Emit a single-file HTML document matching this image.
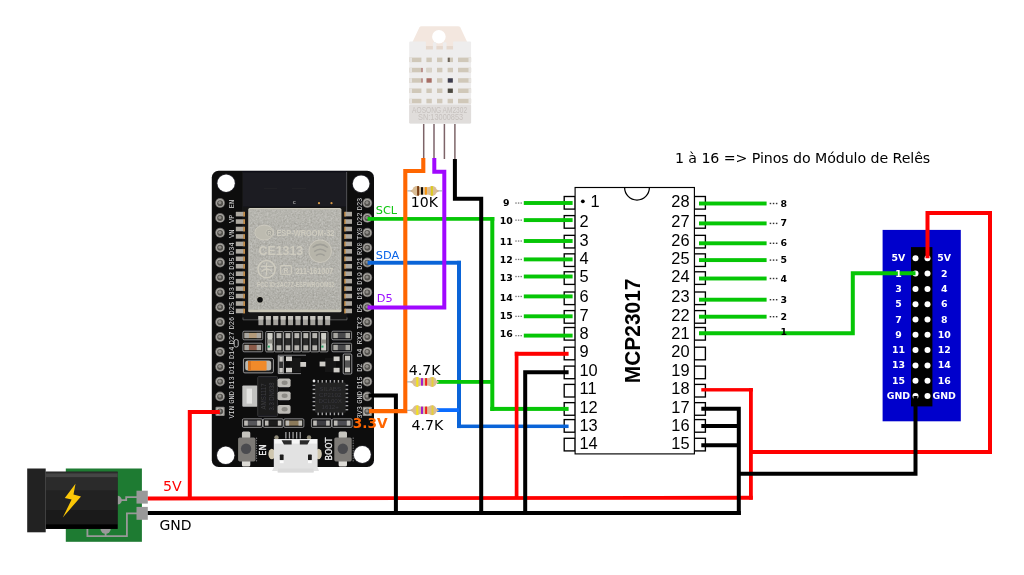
<!DOCTYPE html>
<html lang="pt">
<head>
<meta charset="utf-8">
<title>ESP32 + MCP23017 + DHT22</title>
<style>
html,body{margin:0;padding:0;background:#fff;}
body{width:1024px;height:575px;overflow:hidden;}
svg{display:block;will-change:transform;}
</style>
</head>
<body>
<svg width="1024" height="575" viewBox="0 0 1024 575">
<rect width="1024" height="575" fill="#fff"/>
<defs><filter id="b1" x="-5%" y="-5%" width="110%" height="110%"><feGaussianBlur stdDeviation="0.45"/></filter><filter id="nz" x="0" y="0" width="100%" height="100%"><feTurbulence type="fractalNoise" baseFrequency="0.55" numOctaves="2" seed="7" result="n"/><feColorMatrix in="n" type="matrix" values="0 0 0 0 0.64  0 0 0 0 0.635  0 0 0 0 0.605  0.9 0.9 0.9 0 -0.85"/><feComposite operator="in" in2="SourceGraphic"/></filter><filter id="b2" x="-5%" y="-5%" width="110%" height="110%"><feGaussianBlur stdDeviation="0.4"/></filter></defs>
<g id="jack">
<rect x="65.8" y="468.5" width="76.1" height="73.3" fill="#1e7b32"/>
<path d="M119,500.2 H126.2 V497.1 H137" fill="none" stroke="#999" stroke-width="1.8"/>
<path d="M87.4,528 V536.1 H126.9 V513.3 H137" fill="none" stroke="#999" stroke-width="1.8"/>
<circle cx="105.6" cy="528.6" r="5.2" fill="#999"/>
<line x1="105.6" y1="532" x2="105.6" y2="536.3" stroke="#999" stroke-width="1.8"/>
<circle cx="117.4" cy="500.2" r="4.4" fill="#999"/>
<rect x="136.5" y="490.7" width="11.3" height="12.9" fill="#999"/>
<rect x="136.5" y="506.9" width="11.3" height="12.9" fill="#999"/>
<rect x="45.7" y="471.7" width="71.9" height="57.2" fill="#222"/>
<rect x="45.7" y="471.7" width="71.9" height="1.6" fill="#2b2b2b"/>
<rect x="45.7" y="473.3" width="71.9" height="4.2" fill="#454545"/>
<rect x="45.7" y="477.5" width="71.9" height="13" fill="#2b2b2b"/>
<rect x="45.7" y="490.5" width="71.9" height="19.5" fill="#222"/>
<rect x="45.7" y="510" width="71.9" height="14.3" fill="#1a1a1a"/>
<rect x="45.7" y="524.3" width="71.9" height="4.6" fill="#000"/>
<rect x="27.2" y="468.5" width="18.5" height="63.8" fill="#222"/>
<path d="M75.5,483.7 L64.8,498 L71.6,499.6 L62.8,517.4 L81,496.6 L73.5,494.6 Z" fill="#fbc707"/>
</g>
<g id="esp" filter="url(#b1)">
<rect x="211.8" y="170.8" width="162.2" height="296.3" rx="6.8" fill="#0a0a0c"/>
<rect x="241.9" y="171.3" width="105.8" height="148" fill="#141417"/>
<rect x="243" y="172.5" width="103" height="34" fill="#1b1b20"/>
<path d="M346.6,172 V212" stroke="#77777c" stroke-width="0.6" fill="none"/>
<path d="M264,177 V188.5 H277 V177 M292,177 V188.5 H306 V177 M320,177 V190" stroke="#222228" stroke-width="1" fill="none"/>
<path d="M243,317.5 V319.8 H262 M328,319.8 H347 V317.5" stroke="#8a8a8a" stroke-width="0.6" fill="none"/>
<text x="294.3" y="204.2" font-family="'Liberation Sans','DejaVu Sans',sans-serif" font-size="4.2" font-weight="bold" fill="#bbb" text-anchor="middle" >C</text>
<circle cx="319" cy="203.2" r="1.1" fill="#d89a4a"/>
<circle cx="331.5" cy="203.2" r="1.1" fill="#d89a4a"/>
<circle cx="226.1" cy="183.2" r="9.6" fill="#26262a"/>
<circle cx="226.1" cy="183.2" r="8.7" fill="#fff"/>
<circle cx="361.1" cy="183.8" r="9.3" fill="#26262a"/>
<circle cx="361.1" cy="183.8" r="8.4" fill="#fff"/>
<circle cx="225.7" cy="455.3" r="9.6" fill="#26262a"/>
<circle cx="225.7" cy="455.3" r="8.7" fill="#fff"/>
<circle cx="362.3" cy="454.5" r="9.4" fill="#26262a"/>
<circle cx="362.3" cy="454.5" r="8.5" fill="#fff"/>
<rect x="235.8" y="211.80" width="8" height="4.6" fill="#aca8a0"/>
<rect x="243.4" y="211.80" width="1.6" height="4.8" fill="#c98f45"/>
<rect x="345" y="211.80" width="7" height="4.6" fill="#aca8a0"/>
<rect x="344.2" y="211.80" width="1.4" height="4.8" fill="#c98f45"/>
<rect x="235.8" y="219.25" width="8" height="4.6" fill="#aca8a0"/>
<rect x="243.4" y="219.25" width="1.6" height="4.8" fill="#c98f45"/>
<rect x="345" y="219.25" width="7" height="4.6" fill="#aca8a0"/>
<rect x="344.2" y="219.25" width="1.4" height="4.8" fill="#c98f45"/>
<rect x="235.8" y="226.70" width="8" height="4.6" fill="#aca8a0"/>
<rect x="243.4" y="226.70" width="1.6" height="4.8" fill="#c98f45"/>
<rect x="345" y="226.70" width="7" height="4.6" fill="#aca8a0"/>
<rect x="344.2" y="226.70" width="1.4" height="4.8" fill="#c98f45"/>
<rect x="235.8" y="234.15" width="8" height="4.6" fill="#aca8a0"/>
<rect x="243.4" y="234.15" width="1.6" height="4.8" fill="#c98f45"/>
<rect x="345" y="234.15" width="7" height="4.6" fill="#aca8a0"/>
<rect x="344.2" y="234.15" width="1.4" height="4.8" fill="#c98f45"/>
<rect x="235.8" y="241.60" width="8" height="4.6" fill="#aca8a0"/>
<rect x="243.4" y="241.60" width="1.6" height="4.8" fill="#c98f45"/>
<rect x="345" y="241.60" width="7" height="4.6" fill="#aca8a0"/>
<rect x="344.2" y="241.60" width="1.4" height="4.8" fill="#c98f45"/>
<rect x="235.8" y="249.05" width="8" height="4.6" fill="#aca8a0"/>
<rect x="243.4" y="249.05" width="1.6" height="4.8" fill="#c98f45"/>
<rect x="345" y="249.05" width="7" height="4.6" fill="#aca8a0"/>
<rect x="344.2" y="249.05" width="1.4" height="4.8" fill="#c98f45"/>
<rect x="235.8" y="256.50" width="8" height="4.6" fill="#aca8a0"/>
<rect x="243.4" y="256.50" width="1.6" height="4.8" fill="#c98f45"/>
<rect x="345" y="256.50" width="7" height="4.6" fill="#aca8a0"/>
<rect x="344.2" y="256.50" width="1.4" height="4.8" fill="#c98f45"/>
<rect x="235.8" y="263.95" width="8" height="4.6" fill="#aca8a0"/>
<rect x="243.4" y="263.95" width="1.6" height="4.8" fill="#c98f45"/>
<rect x="345" y="263.95" width="7" height="4.6" fill="#aca8a0"/>
<rect x="344.2" y="263.95" width="1.4" height="4.8" fill="#c98f45"/>
<rect x="235.8" y="271.40" width="8" height="4.6" fill="#aca8a0"/>
<rect x="243.4" y="271.40" width="1.6" height="4.8" fill="#c98f45"/>
<rect x="345" y="271.40" width="7" height="4.6" fill="#aca8a0"/>
<rect x="344.2" y="271.40" width="1.4" height="4.8" fill="#c98f45"/>
<rect x="235.8" y="278.85" width="8" height="4.6" fill="#aca8a0"/>
<rect x="243.4" y="278.85" width="1.6" height="4.8" fill="#c98f45"/>
<rect x="345" y="278.85" width="7" height="4.6" fill="#aca8a0"/>
<rect x="344.2" y="278.85" width="1.4" height="4.8" fill="#c98f45"/>
<rect x="235.8" y="286.30" width="8" height="4.6" fill="#aca8a0"/>
<rect x="243.4" y="286.30" width="1.6" height="4.8" fill="#c98f45"/>
<rect x="345" y="286.30" width="7" height="4.6" fill="#aca8a0"/>
<rect x="344.2" y="286.30" width="1.4" height="4.8" fill="#c98f45"/>
<rect x="235.8" y="293.75" width="8" height="4.6" fill="#aca8a0"/>
<rect x="243.4" y="293.75" width="1.6" height="4.8" fill="#c98f45"/>
<rect x="345" y="293.75" width="7" height="4.6" fill="#aca8a0"/>
<rect x="344.2" y="293.75" width="1.4" height="4.8" fill="#c98f45"/>
<rect x="235.8" y="301.20" width="8" height="4.6" fill="#aca8a0"/>
<rect x="243.4" y="301.20" width="1.6" height="4.8" fill="#c98f45"/>
<rect x="345" y="301.20" width="7" height="4.6" fill="#aca8a0"/>
<rect x="344.2" y="301.20" width="1.4" height="4.8" fill="#c98f45"/>
<rect x="235.8" y="308.65" width="8" height="4.6" fill="#aca8a0"/>
<rect x="243.4" y="308.65" width="1.6" height="4.8" fill="#c98f45"/>
<rect x="345" y="308.65" width="7" height="4.6" fill="#aca8a0"/>
<rect x="344.2" y="308.65" width="1.4" height="4.8" fill="#c98f45"/>
<rect x="258.40" y="316" width="5" height="9.2" fill="#a3a19c"/>
<rect x="258.40" y="316" width="5" height="3.6" fill="#c6c4be"/>
<rect x="265.82" y="316" width="5" height="9.2" fill="#a3a19c"/>
<rect x="265.82" y="316" width="5" height="3.6" fill="#c6c4be"/>
<rect x="273.23" y="316" width="5" height="9.2" fill="#a3a19c"/>
<rect x="273.23" y="316" width="5" height="3.6" fill="#c6c4be"/>
<rect x="280.65" y="316" width="5" height="9.2" fill="#a3a19c"/>
<rect x="280.65" y="316" width="5" height="3.6" fill="#c6c4be"/>
<rect x="288.07" y="316" width="5" height="9.2" fill="#a3a19c"/>
<rect x="288.07" y="316" width="5" height="3.6" fill="#c6c4be"/>
<rect x="295.49" y="316" width="5" height="9.2" fill="#a3a19c"/>
<rect x="295.49" y="316" width="5" height="3.6" fill="#c6c4be"/>
<rect x="302.90" y="316" width="5" height="9.2" fill="#a3a19c"/>
<rect x="302.90" y="316" width="5" height="3.6" fill="#c6c4be"/>
<rect x="310.32" y="316" width="5" height="9.2" fill="#a3a19c"/>
<rect x="310.32" y="316" width="5" height="3.6" fill="#c6c4be"/>
<rect x="317.74" y="316" width="5" height="9.2" fill="#a3a19c"/>
<rect x="317.74" y="316" width="5" height="3.6" fill="#c6c4be"/>
<rect x="325.16" y="316" width="5" height="9.2" fill="#a3a19c"/>
<rect x="325.16" y="316" width="5" height="3.6" fill="#c6c4be"/>
<rect x="248.3" y="207.9" width="93.1" height="104.4" rx="1.5" fill="#cfccbf"/>
<rect x="249.4" y="209.6" width="91" height="101.4" rx="1" fill="#a3a29b"/>
<rect x="249.4" y="209.6" width="91" height="12" fill="#aaa9a2" opacity="0.6"/>
<rect x="249.4" y="292" width="91" height="19" fill="#9c9b94" opacity="0.6"/>
<rect x="249.4" y="209.6" width="91" height="101.4" rx="1" fill="#a3a29b" filter="url(#nz)" opacity="0.7"/>
<rect x="248.6" y="309.6" width="92.6" height="2.4" fill="#c9c6b6"/>
<ellipse cx="264.2" cy="232.6" rx="9.4" ry="7.4" fill="#bdbbb0"/>
<ellipse cx="264.2" cy="232.6" rx="9.4" ry="7.4" fill="none" stroke="#cecbbf" stroke-width="0.9"/>
<circle cx="269.4" cy="232.8" r="3.6" fill="#a9a8a0" stroke="#cecbbf" stroke-width="0.8"/>
<text x="269.4" y="234.7" font-family="'Liberation Sans','DejaVu Sans',sans-serif" font-size="5.2" font-weight="bold" fill="#cecbbf" text-anchor="middle" >R</text>
<text x="276.4" y="236" font-family="'Liberation Sans',sans-serif" font-weight="bold" font-size="8.6" fill="#cecbbf" textLength="58" lengthAdjust="spacingAndGlyphs">ESP-WROOM-32</text>
<text x="258.6" y="254.6" font-family="'Liberation Sans',sans-serif" font-weight="bold" font-size="12.2" fill="#cecbbf" textLength="44.5" lengthAdjust="spacingAndGlyphs">CE1313</text>
<circle cx="320.2" cy="251.2" r="11.3" fill="#b7b5aa"/>
<circle cx="320.2" cy="251.2" r="11.3" fill="none" stroke="#cecbbf" stroke-width="0.9"/>
<path d="M312.6,247.5 Q320.2,241.2 327.8,247.5 M314.2,251.6 Q320.2,246.8 326.2,251.6 M316,255.6 Q320.2,252.4 324.6,255.6" fill="none" stroke="#9f9e97" stroke-width="1.5"/>
<circle cx="266.6" cy="269.2" r="8.6" fill="none" stroke="#cecbbf" stroke-width="1.5"/>
<path d="M260.6,266.4 H272.6 M266.6,262.6 V275.6 M261.4,271.4 Q266.6,266.6 272,271.4" fill="none" stroke="#cecbbf" stroke-width="1.3"/>
<rect x="280.6" y="265.6" width="10.8" height="8.6" rx="1.4" fill="none" stroke="#cecbbf" stroke-width="1.1"/>
<text x="286" y="272.5" font-family="'Liberation Sans','DejaVu Sans',sans-serif" font-size="6.8" font-weight="bold" fill="#cecbbf" text-anchor="middle" >R</text>
<text x="295.4" y="274" font-family="'Liberation Sans',sans-serif" font-weight="bold" font-size="8.2" fill="#cecbbf" textLength="37.8" lengthAdjust="spacingAndGlyphs">211-161007</text>
<text x="257" y="287" font-family="'Liberation Sans',sans-serif" font-weight="bold" font-size="7.2" fill="#cecbbf" textLength="77.4" lengthAdjust="spacingAndGlyphs">FCC ID:2AC7Z-ESPWROOM32</text>
<circle cx="260" cy="299.8" r="3.7" fill="#b9b7ad"/>
<circle cx="260" cy="299.8" r="2.8" fill="#0a0a0a"/>
<rect x="242.9" y="331.2" width="19.8" height="8.6" rx="1.2" fill="#151515" stroke="#bcbcbc" stroke-width="0.7"/>
<rect x="244.5" y="332.9" width="16.6" height="5.199999999999999" fill="#b39a7a"/>
<rect x="244.5" y="332.9" width="4.4" height="5.199999999999999" fill="#a9a7a2"/>
<rect x="256.7" y="332.9" width="4.4" height="5.199999999999999" fill="#a9a7a2"/>
<rect x="242.9" y="343.2" width="19.8" height="8.6" rx="1.2" fill="#151515" stroke="#bcbcbc" stroke-width="0.7"/>
<rect x="244.5" y="344.9" width="16.6" height="5.199999999999999" fill="#8a5a48"/>
<rect x="244.5" y="344.9" width="4.4" height="5.199999999999999" fill="#a9a7a2"/>
<rect x="256.7" y="344.9" width="4.4" height="5.199999999999999" fill="#a9a7a2"/>
<rect x="265.7" y="331.5" width="8.6" height="20.4" rx="1" fill="#151515" stroke="#bcbcbc" stroke-width="0.7"/>
<rect x="267.59999999999997" y="333.1" width="4.8" height="17.2" fill="#3a3a38"/>
<rect x="267.59999999999997" y="333.1" width="4.8" height="5" fill="#b8b6b1"/>
<rect x="267.59999999999997" y="345.29999999999995" width="4.8" height="5" fill="#b8b6b1"/>
<rect x="267.59999999999997" y="333.1" width="4.8" height="17.2" fill="#cfcfc8"/>
<rect x="267.59999999999997" y="345.6" width="2.2" height="2" fill="#2fa36a"/>
<rect x="267.59999999999997" y="339.5" width="4.8" height="4" fill="#8f8f88"/>
<rect x="274.65" y="331.5" width="8.6" height="20.4" rx="1" fill="#151515" stroke="#bcbcbc" stroke-width="0.7"/>
<rect x="276.54999999999995" y="333.1" width="4.8" height="17.2" fill="#2c2c2c"/>
<rect x="276.54999999999995" y="333.1" width="4.8" height="5" fill="#b8b6b1"/>
<rect x="276.54999999999995" y="345.29999999999995" width="4.8" height="5" fill="#b8b6b1"/>
<rect x="283.59999999999997" y="331.5" width="8.6" height="20.4" rx="1" fill="#151515" stroke="#bcbcbc" stroke-width="0.7"/>
<rect x="285.49999999999994" y="333.1" width="4.8" height="17.2" fill="#2c2c2c"/>
<rect x="285.49999999999994" y="333.1" width="4.8" height="5" fill="#b8b6b1"/>
<rect x="285.49999999999994" y="345.29999999999995" width="4.8" height="5" fill="#b8b6b1"/>
<rect x="292.55" y="331.5" width="8.6" height="20.4" rx="1" fill="#151515" stroke="#bcbcbc" stroke-width="0.7"/>
<rect x="294.45" y="333.1" width="4.8" height="17.2" fill="#2c2c2c"/>
<rect x="294.45" y="333.1" width="4.8" height="5" fill="#b8b6b1"/>
<rect x="294.45" y="345.29999999999995" width="4.8" height="5" fill="#b8b6b1"/>
<rect x="301.5" y="331.5" width="8.6" height="20.4" rx="1" fill="#151515" stroke="#bcbcbc" stroke-width="0.7"/>
<rect x="303.4" y="333.1" width="4.8" height="17.2" fill="#2c2c2c"/>
<rect x="303.4" y="333.1" width="4.8" height="5" fill="#b8b6b1"/>
<rect x="303.4" y="345.29999999999995" width="4.8" height="5" fill="#b8b6b1"/>
<rect x="310.45" y="331.5" width="8.6" height="20.4" rx="1" fill="#151515" stroke="#bcbcbc" stroke-width="0.7"/>
<rect x="312.34999999999997" y="333.1" width="4.8" height="17.2" fill="#2c2c2c"/>
<rect x="312.34999999999997" y="333.1" width="4.8" height="5" fill="#b8b6b1"/>
<rect x="312.34999999999997" y="345.29999999999995" width="4.8" height="5" fill="#b8b6b1"/>
<rect x="319.4" y="331.5" width="8.6" height="20.4" rx="1" fill="#151515" stroke="#bcbcbc" stroke-width="0.7"/>
<rect x="321.29999999999995" y="333.1" width="4.8" height="17.2" fill="#3a3a38"/>
<rect x="321.29999999999995" y="333.1" width="4.8" height="5" fill="#b8b6b1"/>
<rect x="321.29999999999995" y="345.29999999999995" width="4.8" height="5" fill="#b8b6b1"/>
<rect x="321.29999999999995" y="333.1" width="4.8" height="17.2" fill="#cfcfc8"/>
<rect x="321.29999999999995" y="345.6" width="2.2" height="2" fill="#2fa36a"/>
<rect x="321.29999999999995" y="339.5" width="4.8" height="4" fill="#8f8f88"/>
<rect x="331.8" y="331.2" width="19.8" height="8.6" rx="1.2" fill="#151515" stroke="#bcbcbc" stroke-width="0.7"/>
<rect x="333.40000000000003" y="332.9" width="16.6" height="5.199999999999999" fill="#4a4a4c"/>
<rect x="333.40000000000003" y="332.9" width="4.4" height="5.199999999999999" fill="#a9a7a2"/>
<rect x="345.6" y="332.9" width="4.4" height="5.199999999999999" fill="#a9a7a2"/>
<rect x="331.8" y="343.2" width="19.8" height="8.6" rx="1.2" fill="#151515" stroke="#bcbcbc" stroke-width="0.7"/>
<rect x="333.40000000000003" y="344.9" width="16.6" height="5.199999999999999" fill="#4a4a4c"/>
<rect x="333.40000000000003" y="344.9" width="4.4" height="5.199999999999999" fill="#a9a7a2"/>
<rect x="345.6" y="344.9" width="4.4" height="5.199999999999999" fill="#a9a7a2"/>
<rect x="234.2" y="339.6" width="4" height="7.4" rx="1.6" fill="none" stroke="#e8e8e8" stroke-width="0.8"/>
<rect x="243.4" y="358.3" width="30" height="14.6" rx="1.5" fill="#1a1a1a" stroke="#bdbdbd" stroke-width="0.8"/>
<rect x="245.2" y="360.6" width="26" height="10" rx="2.5" fill="#bcbab4"/>
<rect x="248" y="361" width="18.6" height="9.4" rx="1" fill="#f08a2a"/>
<rect x="248" y="361" width="3" height="9.4" fill="#d87420"/>
<path d="M278.2,355.2 H306 M278.2,355.2 V373.6 M278.2,373.6 H301" fill="none" stroke="#cfcfcf" stroke-width="0.6"/>
<rect x="278.8" y="356.3" width="4.6" height="17" fill="#303030" stroke="#d0d0d0" stroke-width="0.6"/>
<rect x="279.4" y="357" width="3.4" height="4.6" fill="#c9c7c2"/>
<rect x="279.4" y="368" width="3.4" height="4.6" fill="#c9c7c2"/>
<rect x="290" y="357.5" width="11" height="14.5" fill="#161616"/>
<rect x="286" y="356.5" width="6" height="4.6" fill="#cfcdc8"/>
<rect x="286" y="367.8" width="6" height="4.6" fill="#cfcdc8"/>
<rect x="300.3" y="362" width="5.8" height="4.8" fill="#cfcdc8"/>
<rect x="325" y="357.5" width="11" height="14.5" fill="#161616"/>
<rect x="319.6" y="361.6" width="5.8" height="4.8" fill="#cfcdc8"/>
<rect x="333.6" y="356.5" width="6" height="4.6" fill="#cfcdc8"/>
<rect x="333.6" y="367.8" width="6" height="4.6" fill="#cfcdc8"/>
<rect x="343.2" y="354" width="8.6" height="20" rx="1" fill="#151515" stroke="#d0d0d0" stroke-width="0.7"/>
<rect x="345" y="355.8" width="5" height="16.4" fill="#555"/>
<rect x="345" y="355.8" width="5" height="4.6" fill="#c9c7c2"/>
<rect x="345" y="367.6" width="5" height="4.6" fill="#c9c7c2"/>
<rect x="242.3" y="385.4" width="15.4" height="21.4" rx="1" fill="#c2c2c0"/>
<rect x="246.6" y="388.6" width="5.4" height="15" fill="#e4e4e2"/>
<rect x="257.7" y="376.6" width="19.8" height="39.8" rx="1" fill="#1c1c1e" stroke="#3a3a3c" stroke-width="0.9"/>
<text transform="translate(266.2,396.4) rotate(-90)" font-family="'Liberation Sans',sans-serif" font-size="7" text-anchor="middle" textLength="26" lengthAdjust="spacingAndGlyphs" fill="#3e3e40">AMS1117</text>
<text transform="translate(273.6,396.4) rotate(-90)" font-family="'Liberation Sans',sans-serif" font-size="7" text-anchor="middle" textLength="28" lengthAdjust="spacingAndGlyphs" fill="#3e3e40">3.3 DN638</text>
<rect x="277.6" y="378.40000000000003" width="13" height="8.8" rx="1.8" fill="#bdbbb6"/>
<ellipse cx="284.6" cy="382.8" rx="3" ry="2.2" fill="#8d8b86"/>
<rect x="277.6" y="391.40000000000003" width="13" height="8.8" rx="1.8" fill="#bdbbb6"/>
<ellipse cx="284.6" cy="395.8" rx="3" ry="2.2" fill="#8d8b86"/>
<rect x="277.6" y="404.90000000000003" width="13" height="8.8" rx="1.8" fill="#bdbbb6"/>
<ellipse cx="284.6" cy="409.3" rx="3" ry="2.2" fill="#8d8b86"/>
<rect x="315" y="382.4" width="30.8" height="30.4" rx="1" fill="#222224"/>
<rect x="317.50" y="380" width="1.4" height="2.6" fill="#a4a4a4"/>
<rect x="317.50" y="412.6" width="1.4" height="2.6" fill="#a4a4a4"/>
<rect x="312.6" y="384.70" width="2.6" height="1.4" fill="#a4a4a4"/>
<rect x="345.6" y="384.70" width="2.6" height="1.4" fill="#a4a4a4"/>
<rect x="321.55" y="380" width="1.4" height="2.6" fill="#a4a4a4"/>
<rect x="321.55" y="412.6" width="1.4" height="2.6" fill="#a4a4a4"/>
<rect x="312.6" y="388.75" width="2.6" height="1.4" fill="#a4a4a4"/>
<rect x="345.6" y="388.75" width="2.6" height="1.4" fill="#a4a4a4"/>
<rect x="325.60" y="380" width="1.4" height="2.6" fill="#a4a4a4"/>
<rect x="325.60" y="412.6" width="1.4" height="2.6" fill="#a4a4a4"/>
<rect x="312.6" y="392.80" width="2.6" height="1.4" fill="#a4a4a4"/>
<rect x="345.6" y="392.80" width="2.6" height="1.4" fill="#a4a4a4"/>
<rect x="329.65" y="380" width="1.4" height="2.6" fill="#a4a4a4"/>
<rect x="329.65" y="412.6" width="1.4" height="2.6" fill="#a4a4a4"/>
<rect x="312.6" y="396.85" width="2.6" height="1.4" fill="#a4a4a4"/>
<rect x="345.6" y="396.85" width="2.6" height="1.4" fill="#a4a4a4"/>
<rect x="333.70" y="380" width="1.4" height="2.6" fill="#a4a4a4"/>
<rect x="333.70" y="412.6" width="1.4" height="2.6" fill="#a4a4a4"/>
<rect x="312.6" y="400.90" width="2.6" height="1.4" fill="#a4a4a4"/>
<rect x="345.6" y="400.90" width="2.6" height="1.4" fill="#a4a4a4"/>
<rect x="337.75" y="380" width="1.4" height="2.6" fill="#a4a4a4"/>
<rect x="337.75" y="412.6" width="1.4" height="2.6" fill="#a4a4a4"/>
<rect x="312.6" y="404.95" width="2.6" height="1.4" fill="#a4a4a4"/>
<rect x="345.6" y="404.95" width="2.6" height="1.4" fill="#a4a4a4"/>
<rect x="341.80" y="380" width="1.4" height="2.6" fill="#a4a4a4"/>
<rect x="341.80" y="412.6" width="1.4" height="2.6" fill="#a4a4a4"/>
<rect x="312.6" y="409.00" width="2.6" height="1.4" fill="#a4a4a4"/>
<rect x="345.6" y="409.00" width="2.6" height="1.4" fill="#a4a4a4"/>
<circle cx="314" cy="381" r="1.4" fill="#e6e6e6"/>
<text x="330.2" y="390.5" font-family="'Liberation Sans','DejaVu Sans',sans-serif" font-size="6.2" font-weight="normal" fill="#38383a" text-anchor="middle" >SILABS</text>
<text x="330.2" y="396.7" font-family="'Liberation Sans','DejaVu Sans',sans-serif" font-size="6.2" font-weight="normal" fill="#38383a" text-anchor="middle" >CP2102</text>
<text x="330.2" y="402.9" font-family="'Liberation Sans','DejaVu Sans',sans-serif" font-size="6.2" font-weight="normal" fill="#38383a" text-anchor="middle" >DCL00X</text>
<text x="330.2" y="409.1" font-family="'Liberation Sans','DejaVu Sans',sans-serif" font-size="6.2" font-weight="normal" fill="#38383a" text-anchor="middle" >1612+</text>
<rect x="242.40" y="418.8" width="20.10" height="8.6" rx="1.2" fill="#151515" stroke="#bcbcbc" stroke-width="0.7"/>
<rect x="244.20" y="420.6" width="16.50" height="5" fill="#56565a"/>
<rect x="244.20" y="420.6" width="3.6" height="5" fill="#bdbbb6"/>
<rect x="257.10" y="420.6" width="3.6" height="5" fill="#bdbbb6"/>
<rect x="263.10" y="418.8" width="20.10" height="8.6" rx="1.2" fill="#151515" stroke="#bcbcbc" stroke-width="0.7"/>
<rect x="264.90" y="420.6" width="16.50" height="5" fill="#1a1a1a"/>
<rect x="264.90" y="420.6" width="3.6" height="5" fill="#bdbbb6"/>
<rect x="277.80" y="420.6" width="3.6" height="5" fill="#bdbbb6"/>
<rect x="283.80" y="418.8" width="20.10" height="8.6" rx="1.2" fill="#151515" stroke="#bcbcbc" stroke-width="0.7"/>
<rect x="285.60" y="420.6" width="16.50" height="5" fill="#8c7a5a"/>
<rect x="285.60" y="420.6" width="3.6" height="5" fill="#bdbbb6"/>
<rect x="298.50" y="420.6" width="3.6" height="5" fill="#bdbbb6"/>
<rect x="311.40" y="418.8" width="20.10" height="8.6" rx="1.2" fill="#151515" stroke="#bcbcbc" stroke-width="0.7"/>
<rect x="313.20" y="420.6" width="16.50" height="5" fill="#3e3e42"/>
<rect x="313.20" y="420.6" width="3.6" height="5" fill="#bdbbb6"/>
<rect x="326.10" y="420.6" width="3.6" height="5" fill="#bdbbb6"/>
<rect x="332.10" y="418.8" width="20.10" height="8.6" rx="1.2" fill="#151515" stroke="#bcbcbc" stroke-width="0.7"/>
<rect x="333.90" y="420.6" width="16.50" height="5" fill="#4e4e52"/>
<rect x="333.90" y="420.6" width="3.6" height="5" fill="#bdbbb6"/>
<rect x="346.80" y="420.6" width="3.6" height="5" fill="#bdbbb6"/>
<rect x="241.9" y="431.6" width="8.4" height="7" rx="1.5" fill="#c6c4be"/>
<rect x="241.9" y="459.6" width="8.4" height="6.8" rx="1.5" fill="#dddbd6"/>
<rect x="238.1" y="437.4" width="17.4" height="24" rx="1.6" fill="#7d7a76"/>
<circle cx="246.1" cy="448.8" r="5.2" fill="#4c4c50"/>
<rect x="338.6" y="431.6" width="8.4" height="7" rx="1.5" fill="#c6c4be"/>
<rect x="338.6" y="459.6" width="8.4" height="6.8" rx="1.5" fill="#dddbd6"/>
<rect x="334.3" y="437.4" width="17.4" height="24" rx="1.6" fill="#7d7a76"/>
<circle cx="342.8" cy="448.8" r="5.2" fill="#4c4c50"/>
<path d="M256.6,437.5 V461.5" stroke="#bbb" stroke-width="0.6" stroke-dasharray="1.5,1" fill="none"/>
<path d="M353.2,437.5 V461.5" stroke="#bbb" stroke-width="0.6" stroke-dasharray="1.5,1" fill="none"/>
<text transform="translate(266.4,450.1) rotate(-90)" font-family="'DejaVu Sans',sans-serif" font-size="8.4" text-anchor="middle" textLength="11.2" lengthAdjust="spacingAndGlyphs" fill="#f4f4f4" stroke="#f4f4f4" stroke-width="0.3">EN</text>
<text transform="translate(332.2,449) rotate(-90)" font-family="'DejaVu Sans',sans-serif" font-size="8.4" text-anchor="middle" textLength="22.8" lengthAdjust="spacingAndGlyphs" fill="#f4f4f4" stroke="#f4f4f4" stroke-width="0.3">BOOT</text>
<rect x="285.20" y="432" width="1.3" height="6.6" fill="#9d9d9d"/>
<rect x="288.80" y="432" width="1.3" height="6.6" fill="#9d9d9d"/>
<rect x="292.40" y="432" width="1.3" height="6.6" fill="#9d9d9d"/>
<rect x="296.00" y="432" width="1.3" height="6.6" fill="#9d9d9d"/>
<rect x="299.60" y="432" width="1.3" height="6.6" fill="#9d9d9d"/>
<ellipse cx="271.8" cy="454" rx="3.4" ry="5.2" fill="#cfc6ae"/>
<ellipse cx="318.6" cy="454" rx="3.2" ry="5.2" fill="#cfc6ae"/>
<circle cx="276.5" cy="437.5" r="2.2" fill="#8f8a78"/>
<circle cx="309" cy="437.5" r="2.2" fill="#8f8a78"/>
<path d="M273.8,439 H317.6 V467.5 L319,471 H314 L313.5,472.8 H277.8 L277.3,471 H272 L273.8,467.5 Z" fill="#e2e2e2"/>
<rect x="274.6" y="439.4" width="42.4" height="4.2" fill="#f6f6f6"/>
<path d="M281.6,440.2 H291.6 V444.4 H284 Z" fill="#2a2a2a"/>
<path d="M299.8,440.2 H309.8 L307.4,444.4 H299.8 Z" fill="#2a2a2a"/>
<rect x="279.8" y="454.6" width="3.8" height="5.6" rx="0.6" fill="#1c1c1c"/>
<rect x="308" y="454.6" width="3.8" height="5.6" rx="0.6" fill="#1c1c1c"/>
<rect x="279.8" y="460.2" width="3.8" height="3" fill="#fbfbfb"/>
<rect x="308" y="460.2" width="3.8" height="3" fill="#fbfbfb"/>
<rect x="278" y="468.6" width="35.4" height="3.6" fill="#dadada"/>
<circle cx="220.1" cy="203.00" r="4.9" fill="#6f6d6a"/>
<circle cx="220.1" cy="203.00" r="4" fill="#aeaca7"/>
<circle cx="220.1" cy="203.20" r="3" fill="#55534f"/>
<circle cx="219.79999999999998" cy="202.60" r="1.6" fill="#8f8d88"/>
<circle cx="367.3" cy="203.00" r="4.9" fill="#6f6d6a"/>
<circle cx="367.3" cy="203.00" r="4" fill="#aeaca7"/>
<circle cx="367.3" cy="203.20" r="3" fill="#55534f"/>
<circle cx="367.0" cy="202.60" r="1.6" fill="#8f8d88"/>
<text transform="translate(233.8,204.00) rotate(-90)" font-family="'Liberation Mono',monospace" font-size="7.2" text-anchor="middle" textLength="8.4" lengthAdjust="spacingAndGlyphs" fill="#dcdcdc">EN</text>
<text transform="translate(361.6,204.00) rotate(-90)" font-family="'Liberation Mono',monospace" font-size="7.2" text-anchor="middle" textLength="12.6" lengthAdjust="spacingAndGlyphs" fill="#dcdcdc">D23</text>
<circle cx="220.1" cy="217.88" r="4.9" fill="#6f6d6a"/>
<circle cx="220.1" cy="217.88" r="4" fill="#aeaca7"/>
<circle cx="220.1" cy="218.08" r="3" fill="#55534f"/>
<circle cx="219.79999999999998" cy="217.48" r="1.6" fill="#8f8d88"/>
<circle cx="367.3" cy="217.88" r="4.9" fill="#6f6d6a"/>
<circle cx="367.3" cy="217.88" r="4" fill="#aeaca7"/>
<circle cx="367.3" cy="218.08" r="3" fill="#55534f"/>
<circle cx="367.0" cy="217.48" r="1.6" fill="#8f8d88"/>
<text transform="translate(233.8,218.88) rotate(-90)" font-family="'Liberation Mono',monospace" font-size="7.2" text-anchor="middle" textLength="8.4" lengthAdjust="spacingAndGlyphs" fill="#dcdcdc">VP</text>
<text transform="translate(361.6,218.88) rotate(-90)" font-family="'Liberation Mono',monospace" font-size="7.2" text-anchor="middle" textLength="12.6" lengthAdjust="spacingAndGlyphs" fill="#dcdcdc">D22</text>
<circle cx="220.1" cy="232.76" r="4.9" fill="#6f6d6a"/>
<circle cx="220.1" cy="232.76" r="4" fill="#aeaca7"/>
<circle cx="220.1" cy="232.96" r="3" fill="#55534f"/>
<circle cx="219.79999999999998" cy="232.36" r="1.6" fill="#8f8d88"/>
<circle cx="367.3" cy="232.76" r="4.9" fill="#6f6d6a"/>
<circle cx="367.3" cy="232.76" r="4" fill="#aeaca7"/>
<circle cx="367.3" cy="232.96" r="3" fill="#55534f"/>
<circle cx="367.0" cy="232.36" r="1.6" fill="#8f8d88"/>
<text transform="translate(233.8,233.76) rotate(-90)" font-family="'Liberation Mono',monospace" font-size="7.2" text-anchor="middle" textLength="8.4" lengthAdjust="spacingAndGlyphs" fill="#dcdcdc">VN</text>
<text transform="translate(361.6,233.76) rotate(-90)" font-family="'Liberation Mono',monospace" font-size="7.2" text-anchor="middle" textLength="12.6" lengthAdjust="spacingAndGlyphs" fill="#dcdcdc">TX0</text>
<circle cx="220.1" cy="247.64" r="4.9" fill="#6f6d6a"/>
<circle cx="220.1" cy="247.64" r="4" fill="#aeaca7"/>
<circle cx="220.1" cy="247.84" r="3" fill="#55534f"/>
<circle cx="219.79999999999998" cy="247.24" r="1.6" fill="#8f8d88"/>
<circle cx="367.3" cy="247.64" r="4.9" fill="#6f6d6a"/>
<circle cx="367.3" cy="247.64" r="4" fill="#aeaca7"/>
<circle cx="367.3" cy="247.84" r="3" fill="#55534f"/>
<circle cx="367.0" cy="247.24" r="1.6" fill="#8f8d88"/>
<text transform="translate(233.8,248.64) rotate(-90)" font-family="'Liberation Mono',monospace" font-size="7.2" text-anchor="middle" textLength="12.6" lengthAdjust="spacingAndGlyphs" fill="#dcdcdc">D34</text>
<text transform="translate(361.6,248.64) rotate(-90)" font-family="'Liberation Mono',monospace" font-size="7.2" text-anchor="middle" textLength="12.6" lengthAdjust="spacingAndGlyphs" fill="#dcdcdc">RX0</text>
<circle cx="220.1" cy="262.52" r="4.9" fill="#6f6d6a"/>
<circle cx="220.1" cy="262.52" r="4" fill="#aeaca7"/>
<circle cx="220.1" cy="262.72" r="3" fill="#55534f"/>
<circle cx="219.79999999999998" cy="262.12" r="1.6" fill="#8f8d88"/>
<circle cx="367.3" cy="262.52" r="4.9" fill="#6f6d6a"/>
<circle cx="367.3" cy="262.52" r="4" fill="#aeaca7"/>
<circle cx="367.3" cy="262.72" r="3" fill="#55534f"/>
<circle cx="367.0" cy="262.12" r="1.6" fill="#8f8d88"/>
<text transform="translate(233.8,263.52) rotate(-90)" font-family="'Liberation Mono',monospace" font-size="7.2" text-anchor="middle" textLength="12.6" lengthAdjust="spacingAndGlyphs" fill="#dcdcdc">D35</text>
<text transform="translate(361.6,263.52) rotate(-90)" font-family="'Liberation Mono',monospace" font-size="7.2" text-anchor="middle" textLength="12.6" lengthAdjust="spacingAndGlyphs" fill="#dcdcdc">D21</text>
<circle cx="220.1" cy="277.40" r="4.9" fill="#6f6d6a"/>
<circle cx="220.1" cy="277.40" r="4" fill="#aeaca7"/>
<circle cx="220.1" cy="277.60" r="3" fill="#55534f"/>
<circle cx="219.79999999999998" cy="277.00" r="1.6" fill="#8f8d88"/>
<circle cx="367.3" cy="277.40" r="4.9" fill="#6f6d6a"/>
<circle cx="367.3" cy="277.40" r="4" fill="#aeaca7"/>
<circle cx="367.3" cy="277.60" r="3" fill="#55534f"/>
<circle cx="367.0" cy="277.00" r="1.6" fill="#8f8d88"/>
<text transform="translate(233.8,278.40) rotate(-90)" font-family="'Liberation Mono',monospace" font-size="7.2" text-anchor="middle" textLength="12.6" lengthAdjust="spacingAndGlyphs" fill="#dcdcdc">D32</text>
<text transform="translate(361.6,278.40) rotate(-90)" font-family="'Liberation Mono',monospace" font-size="7.2" text-anchor="middle" textLength="12.6" lengthAdjust="spacingAndGlyphs" fill="#dcdcdc">D19</text>
<circle cx="220.1" cy="292.28" r="4.9" fill="#6f6d6a"/>
<circle cx="220.1" cy="292.28" r="4" fill="#aeaca7"/>
<circle cx="220.1" cy="292.48" r="3" fill="#55534f"/>
<circle cx="219.79999999999998" cy="291.88" r="1.6" fill="#8f8d88"/>
<circle cx="367.3" cy="292.28" r="4.9" fill="#6f6d6a"/>
<circle cx="367.3" cy="292.28" r="4" fill="#aeaca7"/>
<circle cx="367.3" cy="292.48" r="3" fill="#55534f"/>
<circle cx="367.0" cy="291.88" r="1.6" fill="#8f8d88"/>
<text transform="translate(233.8,293.28) rotate(-90)" font-family="'Liberation Mono',monospace" font-size="7.2" text-anchor="middle" textLength="12.6" lengthAdjust="spacingAndGlyphs" fill="#dcdcdc">D33</text>
<text transform="translate(361.6,293.28) rotate(-90)" font-family="'Liberation Mono',monospace" font-size="7.2" text-anchor="middle" textLength="12.6" lengthAdjust="spacingAndGlyphs" fill="#dcdcdc">D18</text>
<circle cx="220.1" cy="307.16" r="4.9" fill="#6f6d6a"/>
<circle cx="220.1" cy="307.16" r="4" fill="#aeaca7"/>
<circle cx="220.1" cy="307.36" r="3" fill="#55534f"/>
<circle cx="219.79999999999998" cy="306.76" r="1.6" fill="#8f8d88"/>
<circle cx="367.3" cy="307.16" r="4.9" fill="#6f6d6a"/>
<circle cx="367.3" cy="307.16" r="4" fill="#aeaca7"/>
<circle cx="367.3" cy="307.36" r="3" fill="#55534f"/>
<circle cx="367.0" cy="306.76" r="1.6" fill="#8f8d88"/>
<text transform="translate(233.8,308.16) rotate(-90)" font-family="'Liberation Mono',monospace" font-size="7.2" text-anchor="middle" textLength="12.6" lengthAdjust="spacingAndGlyphs" fill="#dcdcdc">D25</text>
<text transform="translate(361.6,308.16) rotate(-90)" font-family="'Liberation Mono',monospace" font-size="7.2" text-anchor="middle" textLength="8.4" lengthAdjust="spacingAndGlyphs" fill="#dcdcdc">D5</text>
<circle cx="220.1" cy="322.04" r="4.9" fill="#6f6d6a"/>
<circle cx="220.1" cy="322.04" r="4" fill="#aeaca7"/>
<circle cx="220.1" cy="322.24" r="3" fill="#55534f"/>
<circle cx="219.79999999999998" cy="321.64" r="1.6" fill="#8f8d88"/>
<circle cx="367.3" cy="322.04" r="4.9" fill="#6f6d6a"/>
<circle cx="367.3" cy="322.04" r="4" fill="#aeaca7"/>
<circle cx="367.3" cy="322.24" r="3" fill="#55534f"/>
<circle cx="367.0" cy="321.64" r="1.6" fill="#8f8d88"/>
<text transform="translate(233.8,323.04) rotate(-90)" font-family="'Liberation Mono',monospace" font-size="7.2" text-anchor="middle" textLength="12.6" lengthAdjust="spacingAndGlyphs" fill="#dcdcdc">D26</text>
<text transform="translate(361.6,323.04) rotate(-90)" font-family="'Liberation Mono',monospace" font-size="7.2" text-anchor="middle" textLength="12.6" lengthAdjust="spacingAndGlyphs" fill="#dcdcdc">TX2</text>
<circle cx="220.1" cy="336.92" r="4.9" fill="#6f6d6a"/>
<circle cx="220.1" cy="336.92" r="4" fill="#aeaca7"/>
<circle cx="220.1" cy="337.12" r="3" fill="#55534f"/>
<circle cx="219.79999999999998" cy="336.52" r="1.6" fill="#8f8d88"/>
<circle cx="367.3" cy="336.92" r="4.9" fill="#6f6d6a"/>
<circle cx="367.3" cy="336.92" r="4" fill="#aeaca7"/>
<circle cx="367.3" cy="337.12" r="3" fill="#55534f"/>
<circle cx="367.0" cy="336.52" r="1.6" fill="#8f8d88"/>
<text transform="translate(233.8,337.92) rotate(-90)" font-family="'Liberation Mono',monospace" font-size="7.2" text-anchor="middle" textLength="12.6" lengthAdjust="spacingAndGlyphs" fill="#dcdcdc">D27</text>
<text transform="translate(361.6,337.92) rotate(-90)" font-family="'Liberation Mono',monospace" font-size="7.2" text-anchor="middle" textLength="12.6" lengthAdjust="spacingAndGlyphs" fill="#dcdcdc">RX2</text>
<circle cx="220.1" cy="351.80" r="4.9" fill="#6f6d6a"/>
<circle cx="220.1" cy="351.80" r="4" fill="#aeaca7"/>
<circle cx="220.1" cy="352.00" r="3" fill="#55534f"/>
<circle cx="219.79999999999998" cy="351.40" r="1.6" fill="#8f8d88"/>
<circle cx="367.3" cy="351.80" r="4.9" fill="#6f6d6a"/>
<circle cx="367.3" cy="351.80" r="4" fill="#aeaca7"/>
<circle cx="367.3" cy="352.00" r="3" fill="#55534f"/>
<circle cx="367.0" cy="351.40" r="1.6" fill="#8f8d88"/>
<text transform="translate(233.8,352.80) rotate(-90)" font-family="'Liberation Mono',monospace" font-size="7.2" text-anchor="middle" textLength="12.6" lengthAdjust="spacingAndGlyphs" fill="#dcdcdc">D14</text>
<text transform="translate(361.6,352.80) rotate(-90)" font-family="'Liberation Mono',monospace" font-size="7.2" text-anchor="middle" textLength="8.4" lengthAdjust="spacingAndGlyphs" fill="#dcdcdc">D4</text>
<circle cx="220.1" cy="366.68" r="4.9" fill="#6f6d6a"/>
<circle cx="220.1" cy="366.68" r="4" fill="#aeaca7"/>
<circle cx="220.1" cy="366.88" r="3" fill="#55534f"/>
<circle cx="219.79999999999998" cy="366.28" r="1.6" fill="#8f8d88"/>
<circle cx="367.3" cy="366.68" r="4.9" fill="#6f6d6a"/>
<circle cx="367.3" cy="366.68" r="4" fill="#aeaca7"/>
<circle cx="367.3" cy="366.88" r="3" fill="#55534f"/>
<circle cx="367.0" cy="366.28" r="1.6" fill="#8f8d88"/>
<text transform="translate(233.8,367.68) rotate(-90)" font-family="'Liberation Mono',monospace" font-size="7.2" text-anchor="middle" textLength="12.6" lengthAdjust="spacingAndGlyphs" fill="#dcdcdc">D12</text>
<text transform="translate(361.6,367.68) rotate(-90)" font-family="'Liberation Mono',monospace" font-size="7.2" text-anchor="middle" textLength="8.4" lengthAdjust="spacingAndGlyphs" fill="#dcdcdc">D2</text>
<circle cx="220.1" cy="381.56" r="4.9" fill="#6f6d6a"/>
<circle cx="220.1" cy="381.56" r="4" fill="#aeaca7"/>
<circle cx="220.1" cy="381.76" r="3" fill="#55534f"/>
<circle cx="219.79999999999998" cy="381.16" r="1.6" fill="#8f8d88"/>
<circle cx="367.3" cy="381.56" r="4.9" fill="#6f6d6a"/>
<circle cx="367.3" cy="381.56" r="4" fill="#aeaca7"/>
<circle cx="367.3" cy="381.76" r="3" fill="#55534f"/>
<circle cx="367.0" cy="381.16" r="1.6" fill="#8f8d88"/>
<text transform="translate(233.8,382.56) rotate(-90)" font-family="'Liberation Mono',monospace" font-size="7.2" text-anchor="middle" textLength="12.6" lengthAdjust="spacingAndGlyphs" fill="#dcdcdc">D13</text>
<text transform="translate(361.6,382.56) rotate(-90)" font-family="'Liberation Mono',monospace" font-size="7.2" text-anchor="middle" textLength="12.6" lengthAdjust="spacingAndGlyphs" fill="#dcdcdc">D15</text>
<circle cx="220.1" cy="396.44" r="4.9" fill="#6f6d6a"/>
<circle cx="220.1" cy="396.44" r="4" fill="#aeaca7"/>
<circle cx="220.1" cy="396.64" r="3" fill="#55534f"/>
<circle cx="219.79999999999998" cy="396.04" r="1.6" fill="#8f8d88"/>
<circle cx="367.3" cy="396.44" r="4.9" fill="#6f6d6a"/>
<circle cx="367.3" cy="396.44" r="4" fill="#aeaca7"/>
<circle cx="367.3" cy="396.64" r="3" fill="#55534f"/>
<circle cx="367.0" cy="396.04" r="1.6" fill="#8f8d88"/>
<text transform="translate(233.8,397.44) rotate(-90)" font-family="'Liberation Mono',monospace" font-size="7.2" text-anchor="middle" textLength="12.6" lengthAdjust="spacingAndGlyphs" fill="#dcdcdc">GND</text>
<text transform="translate(361.6,397.44) rotate(-90)" font-family="'Liberation Mono',monospace" font-size="7.2" text-anchor="middle" textLength="12.6" lengthAdjust="spacingAndGlyphs" fill="#dcdcdc">GND</text>
<rect x="215.5" y="406.72" width="9.2" height="9.2" rx="1" fill="#8d8b87"/>
<rect x="216.5" y="407.72" width="7.2" height="7.2" rx="1" fill="#b9b7b2"/>
<circle cx="220.1" cy="411.52" r="3" fill="#55534f"/>
<circle cx="219.79999999999998" cy="410.92" r="1.6" fill="#8f8d88"/>
<rect x="362.7" y="406.72" width="9.2" height="9.2" rx="1" fill="#8d8b87"/>
<rect x="363.7" y="407.72" width="7.2" height="7.2" rx="1" fill="#b9b7b2"/>
<circle cx="367.3" cy="411.52" r="3" fill="#55534f"/>
<circle cx="367.0" cy="410.92" r="1.6" fill="#8f8d88"/>
<text transform="translate(233.8,412.32) rotate(-90)" font-family="'Liberation Mono',monospace" font-size="7.2" text-anchor="middle" textLength="12.6" lengthAdjust="spacingAndGlyphs" fill="#dcdcdc">VIN</text>
<text transform="translate(361.6,412.32) rotate(-90)" font-family="'Liberation Mono',monospace" font-size="7.2" text-anchor="middle" textLength="12.6" lengthAdjust="spacingAndGlyphs" fill="#dcdcdc">3V3</text>
</g>
<g id="dht" filter="url(#b2)">
<path d="M412.3,42.5 L419.3,27.6 Q420,26.2 421.8,26.2 L457.9,26.2 Q459.7,26.2 460.4,27.6 L467.4,42.5 V50 H412.3 Z" fill="#f3e7df"/>
<rect x="425.9" y="46" width="27.2" height="4" fill="#e6d8cd"/>
<circle cx="438.9" cy="36.7" r="6.8" fill="#fff"/>
<path d="M410.2,41.6 H425.2 Q425.9,41.6 425.9,42.4 V49.5 H432.9 V43.2 Q432.9,42.2 433.9,42.2 H435.4 Q436.4,42.2 436.4,43.2 V49.5 H442.9 V43.2 Q442.9,42.2 443.9,42.2 H445.5 Q446.5,42.2 446.5,43.2 V49.5 H453.1 V42.4 Q453.1,41.6 453.9,41.6 H470.1 Q471.1,41.6 471.1,42.6 V122.4 Q471.1,123.4 470.1,123.4 H410.2 Q409.2,123.4 409.2,122.4 V42.6 Q409.2,41.6 410.2,41.6 Z" fill="#eeeded"/>
<rect x="409.2" y="57.6" width="12.2" height="4.5" fill="#d0c8b9"/>
<rect x="426.4" y="57.6" width="5.4" height="4.5" fill="#d0c8b9"/>
<rect x="437" y="57.6" width="5.4" height="4.5" fill="#d0c8b9"/>
<rect x="447.6" y="57.6" width="5.4" height="4.5" fill="#d0c8b9"/>
<rect x="458" y="57.6" width="13.1" height="4.5" fill="#d0c8b9"/>
<rect x="409.2" y="57.6" width="2.8" height="4.5" fill="#e6e3e0"/>
<rect x="468.5" y="57.6" width="2.6" height="4.5" fill="#e6e3e0"/>
<rect x="409.2" y="67.8" width="12.2" height="4.5" fill="#d0c8b9"/>
<rect x="426.4" y="67.8" width="5.4" height="4.5" fill="#d0c8b9"/>
<rect x="437" y="67.8" width="5.4" height="4.5" fill="#d0c8b9"/>
<rect x="447.6" y="67.8" width="5.4" height="4.5" fill="#d0c8b9"/>
<rect x="458" y="67.8" width="13.1" height="4.5" fill="#d0c8b9"/>
<rect x="409.2" y="67.8" width="2.8" height="4.5" fill="#e6e3e0"/>
<rect x="468.5" y="67.8" width="2.6" height="4.5" fill="#e6e3e0"/>
<rect x="409.2" y="78.2" width="12.2" height="4.5" fill="#d0c8b9"/>
<rect x="426.4" y="78.2" width="5.4" height="4.5" fill="#d0c8b9"/>
<rect x="437" y="78.2" width="5.4" height="4.5" fill="#d0c8b9"/>
<rect x="447.6" y="78.2" width="5.4" height="4.5" fill="#d0c8b9"/>
<rect x="458" y="78.2" width="13.1" height="4.5" fill="#d0c8b9"/>
<rect x="409.2" y="78.2" width="2.8" height="4.5" fill="#e6e3e0"/>
<rect x="468.5" y="78.2" width="2.6" height="4.5" fill="#e6e3e0"/>
<rect x="409.2" y="88.5" width="12.2" height="4.5" fill="#d0c8b9"/>
<rect x="426.4" y="88.5" width="5.4" height="4.5" fill="#d0c8b9"/>
<rect x="437" y="88.5" width="5.4" height="4.5" fill="#d0c8b9"/>
<rect x="447.6" y="88.5" width="5.4" height="4.5" fill="#d0c8b9"/>
<rect x="458" y="88.5" width="13.1" height="4.5" fill="#d0c8b9"/>
<rect x="409.2" y="88.5" width="2.8" height="4.5" fill="#e6e3e0"/>
<rect x="468.5" y="88.5" width="2.6" height="4.5" fill="#e6e3e0"/>
<rect x="409.2" y="98.8" width="12.2" height="4.5" fill="#d0c8b9"/>
<rect x="426.4" y="98.8" width="5.4" height="4.5" fill="#d0c8b9"/>
<rect x="437" y="98.8" width="5.4" height="4.5" fill="#d0c8b9"/>
<rect x="447.6" y="98.8" width="5.4" height="4.5" fill="#d0c8b9"/>
<rect x="458" y="98.8" width="13.1" height="4.5" fill="#d0c8b9"/>
<rect x="409.2" y="98.8" width="2.8" height="4.5" fill="#e6e3e0"/>
<rect x="468.5" y="98.8" width="2.6" height="4.5" fill="#e6e3e0"/>
<rect x="426.6" y="78.3" width="5" height="4.3" fill="#a86d66"/>
<rect x="426.6" y="67.9" width="5" height="4.3" fill="#d8d2c8"/>
<rect x="421.4" y="67.9" width="1.2" height="4.3" fill="#a0605a"/>
<rect x="421.4" y="78.3" width="1.2" height="4.3" fill="#a0605a"/>
<rect x="447.8" y="78.3" width="5" height="4.3" fill="#3e3e50"/>
<rect x="447.8" y="88.6" width="5" height="4.3" fill="#4c4842"/>
<rect x="447.8" y="57.7" width="2" height="4.3" fill="#6a6258"/>
<rect x="409.2" y="104.8" width="61.9" height="18.6" rx="1.2" fill="#e0dddb"/>
<text x="439.6" y="112.6" font-family="'Liberation Sans','DejaVu Sans',sans-serif" font-size="8.6" font-weight="normal" fill="#c6c1be" text-anchor="middle" textLength="55" lengthAdjust="spacingAndGlyphs">AOSONG AM2302</text>
<text x="440.6" y="120.4" font-family="'Liberation Sans','DejaVu Sans',sans-serif" font-size="8.6" font-weight="normal" fill="#c6c1be" text-anchor="middle" textLength="45" lengthAdjust="spacingAndGlyphs">SN:13000853</text>
<line x1="423.7" y1="124" x2="423.7" y2="158" stroke="#7d6468" stroke-width="1.5"/>
<line x1="434" y1="124" x2="434" y2="158" stroke="#7d6468" stroke-width="1.5"/>
<line x1="444.4" y1="124" x2="444.4" y2="159" stroke="#7d6468" stroke-width="1.5"/>
<line x1="454.9" y1="124" x2="454.9" y2="159" stroke="#7d6468" stroke-width="1.5"/>
</g>
<g id="chip">
<rect x="564.2" y="196.50" width="11" height="12.6" fill="#fff" stroke="#000" stroke-width="1.35"/>
<rect x="694.4" y="196.50" width="11" height="12.6" fill="#fff" stroke="#000" stroke-width="1.35"/>
<rect x="564.2" y="215.60" width="11" height="12.6" fill="#fff" stroke="#000" stroke-width="1.35"/>
<rect x="694.4" y="215.60" width="11" height="12.6" fill="#fff" stroke="#000" stroke-width="1.35"/>
<rect x="564.2" y="235.35" width="11" height="12.6" fill="#fff" stroke="#000" stroke-width="1.35"/>
<rect x="694.4" y="235.35" width="11" height="12.6" fill="#fff" stroke="#000" stroke-width="1.35"/>
<rect x="564.2" y="253.85" width="11" height="12.6" fill="#fff" stroke="#000" stroke-width="1.35"/>
<rect x="694.4" y="253.85" width="11" height="12.6" fill="#fff" stroke="#000" stroke-width="1.35"/>
<rect x="564.2" y="271.80" width="11" height="12.6" fill="#fff" stroke="#000" stroke-width="1.35"/>
<rect x="694.4" y="271.80" width="11" height="12.6" fill="#fff" stroke="#000" stroke-width="1.35"/>
<rect x="564.2" y="292.00" width="11" height="12.6" fill="#fff" stroke="#000" stroke-width="1.35"/>
<rect x="694.4" y="292.00" width="11" height="12.6" fill="#fff" stroke="#000" stroke-width="1.35"/>
<rect x="564.2" y="310.60" width="11" height="12.6" fill="#fff" stroke="#000" stroke-width="1.35"/>
<rect x="694.4" y="310.60" width="11" height="12.6" fill="#fff" stroke="#000" stroke-width="1.35"/>
<rect x="564.2" y="327.50" width="11" height="12.6" fill="#fff" stroke="#000" stroke-width="1.35"/>
<rect x="694.4" y="327.50" width="11" height="12.6" fill="#fff" stroke="#000" stroke-width="1.35"/>
<rect x="564.2" y="347.20" width="11" height="12.6" fill="#fff" stroke="#000" stroke-width="1.35"/>
<rect x="694.4" y="347.20" width="11" height="12.6" fill="#fff" stroke="#000" stroke-width="1.35"/>
<rect x="564.2" y="366.10" width="11" height="12.6" fill="#fff" stroke="#000" stroke-width="1.35"/>
<rect x="694.4" y="366.10" width="11" height="12.6" fill="#fff" stroke="#000" stroke-width="1.35"/>
<rect x="564.2" y="384.40" width="11" height="12.6" fill="#fff" stroke="#000" stroke-width="1.35"/>
<rect x="694.4" y="384.40" width="11" height="12.6" fill="#fff" stroke="#000" stroke-width="1.35"/>
<rect x="564.2" y="402.65" width="11" height="12.6" fill="#fff" stroke="#000" stroke-width="1.35"/>
<rect x="694.4" y="402.65" width="11" height="12.6" fill="#fff" stroke="#000" stroke-width="1.35"/>
<rect x="564.2" y="419.60" width="11" height="12.6" fill="#fff" stroke="#000" stroke-width="1.35"/>
<rect x="694.4" y="419.60" width="11" height="12.6" fill="#fff" stroke="#000" stroke-width="1.35"/>
<rect x="564.2" y="438.30" width="11" height="12.6" fill="#fff" stroke="#000" stroke-width="1.35"/>
<rect x="694.4" y="438.30" width="11" height="12.6" fill="#fff" stroke="#000" stroke-width="1.35"/>
<rect x="575.1" y="187.5" width="119.29999999999995" height="266.4" fill="#fff" stroke="#000" stroke-width="1.15"/>
<path d="M624.6,187.5 A12.4,12.5 0 0 0 649.4,187.5" fill="none" stroke="#000" stroke-width="1.25"/>
<circle cx="582.85" cy="201.3" r="1.9" fill="#000"/>
<text x="590.6" y="206.90" font-family="'Liberation Sans','DejaVu Sans',sans-serif" font-size="16.4" font-weight="normal" fill="#000" text-anchor="start" >1</text>
<text x="689.6" y="206.90" font-family="'Liberation Sans','DejaVu Sans',sans-serif" font-size="16.4" font-weight="normal" fill="#000" text-anchor="end" >28</text>
<text x="579.5" y="226.60" font-family="'Liberation Sans','DejaVu Sans',sans-serif" font-size="16.4" font-weight="normal" fill="#000" text-anchor="start" >2</text>
<text x="689.6" y="226.60" font-family="'Liberation Sans','DejaVu Sans',sans-serif" font-size="16.4" font-weight="normal" fill="#000" text-anchor="end" >27</text>
<text x="579.5" y="245.80" font-family="'Liberation Sans','DejaVu Sans',sans-serif" font-size="16.4" font-weight="normal" fill="#000" text-anchor="start" >3</text>
<text x="689.6" y="245.80" font-family="'Liberation Sans','DejaVu Sans',sans-serif" font-size="16.4" font-weight="normal" fill="#000" text-anchor="end" >26</text>
<text x="579.5" y="264.45" font-family="'Liberation Sans','DejaVu Sans',sans-serif" font-size="16.4" font-weight="normal" fill="#000" text-anchor="start" >4</text>
<text x="689.6" y="264.45" font-family="'Liberation Sans','DejaVu Sans',sans-serif" font-size="16.4" font-weight="normal" fill="#000" text-anchor="end" >25</text>
<text x="579.5" y="282.40" font-family="'Liberation Sans','DejaVu Sans',sans-serif" font-size="16.4" font-weight="normal" fill="#000" text-anchor="start" >5</text>
<text x="689.6" y="282.40" font-family="'Liberation Sans','DejaVu Sans',sans-serif" font-size="16.4" font-weight="normal" fill="#000" text-anchor="end" >24</text>
<text x="579.5" y="302.30" font-family="'Liberation Sans','DejaVu Sans',sans-serif" font-size="16.4" font-weight="normal" fill="#000" text-anchor="start" >6</text>
<text x="689.6" y="302.30" font-family="'Liberation Sans','DejaVu Sans',sans-serif" font-size="16.4" font-weight="normal" fill="#000" text-anchor="end" >23</text>
<text x="579.5" y="321.10" font-family="'Liberation Sans','DejaVu Sans',sans-serif" font-size="16.4" font-weight="normal" fill="#000" text-anchor="start" >7</text>
<text x="689.6" y="321.10" font-family="'Liberation Sans','DejaVu Sans',sans-serif" font-size="16.4" font-weight="normal" fill="#000" text-anchor="end" >22</text>
<text x="579.5" y="338.50" font-family="'Liberation Sans','DejaVu Sans',sans-serif" font-size="16.4" font-weight="normal" fill="#000" text-anchor="start" >8</text>
<text x="689.6" y="338.50" font-family="'Liberation Sans','DejaVu Sans',sans-serif" font-size="16.4" font-weight="normal" fill="#000" text-anchor="end" >21</text>
<text x="579.5" y="357.30" font-family="'Liberation Sans','DejaVu Sans',sans-serif" font-size="16.4" font-weight="normal" fill="#000" text-anchor="start" >9</text>
<text x="689.6" y="357.30" font-family="'Liberation Sans','DejaVu Sans',sans-serif" font-size="16.4" font-weight="normal" fill="#000" text-anchor="end" >20</text>
<text x="579.5" y="375.70" font-family="'Liberation Sans','DejaVu Sans',sans-serif" font-size="16.4" font-weight="normal" fill="#000" text-anchor="start" >10</text>
<text x="689.6" y="375.70" font-family="'Liberation Sans','DejaVu Sans',sans-serif" font-size="16.4" font-weight="normal" fill="#000" text-anchor="end" >19</text>
<text x="579.5" y="394.30" font-family="'Liberation Sans','DejaVu Sans',sans-serif" font-size="16.4" font-weight="normal" fill="#000" text-anchor="start" >11</text>
<text x="689.6" y="394.30" font-family="'Liberation Sans','DejaVu Sans',sans-serif" font-size="16.4" font-weight="normal" fill="#000" text-anchor="end" >18</text>
<text x="579.5" y="412.70" font-family="'Liberation Sans','DejaVu Sans',sans-serif" font-size="16.4" font-weight="normal" fill="#000" text-anchor="start" >12</text>
<text x="689.6" y="412.70" font-family="'Liberation Sans','DejaVu Sans',sans-serif" font-size="16.4" font-weight="normal" fill="#000" text-anchor="end" >17</text>
<text x="579.5" y="430.80" font-family="'Liberation Sans','DejaVu Sans',sans-serif" font-size="16.4" font-weight="normal" fill="#000" text-anchor="start" >13</text>
<text x="689.6" y="430.80" font-family="'Liberation Sans','DejaVu Sans',sans-serif" font-size="16.4" font-weight="normal" fill="#000" text-anchor="end" >16</text>
<text x="579.5" y="448.60" font-family="'Liberation Sans','DejaVu Sans',sans-serif" font-size="16.4" font-weight="normal" fill="#000" text-anchor="start" >14</text>
<text x="689.6" y="448.60" font-family="'Liberation Sans','DejaVu Sans',sans-serif" font-size="16.4" font-weight="normal" fill="#000" text-anchor="end" >15</text>
<text transform="translate(640.2,330.9) rotate(-90)" font-family="'Liberation Sans',sans-serif" font-weight="bold" font-size="21.2" text-anchor="middle" textLength="104.6" lengthAdjust="spacingAndGlyphs" fill="#000">MCP23017</text>
</g>
<g id="relay">
<rect x="882.6" y="229.9" width="78.2" height="191.4" fill="#0000cc"/>
<rect x="911" y="247.1" width="21.4" height="159.3" fill="#000"/>
<circle cx="915.5" cy="258.30" r="3" fill="#fff"/>
<circle cx="927.5" cy="258.30" r="3" fill="#fff"/>
<circle cx="915.5" cy="273.60" r="3" fill="#fff"/>
<circle cx="927.5" cy="273.60" r="3" fill="#fff"/>
<circle cx="915.5" cy="288.90" r="3" fill="#fff"/>
<circle cx="927.5" cy="288.90" r="3" fill="#fff"/>
<circle cx="915.5" cy="304.20" r="3" fill="#fff"/>
<circle cx="927.5" cy="304.20" r="3" fill="#fff"/>
<circle cx="915.5" cy="319.50" r="3" fill="#fff"/>
<circle cx="927.5" cy="319.50" r="3" fill="#fff"/>
<circle cx="915.5" cy="334.80" r="3" fill="#fff"/>
<circle cx="927.5" cy="334.80" r="3" fill="#fff"/>
<circle cx="915.5" cy="350.10" r="3" fill="#fff"/>
<circle cx="927.5" cy="350.10" r="3" fill="#fff"/>
<circle cx="915.5" cy="365.40" r="3" fill="#fff"/>
<circle cx="927.5" cy="365.40" r="3" fill="#fff"/>
<circle cx="915.5" cy="380.70" r="3" fill="#fff"/>
<circle cx="927.5" cy="380.70" r="3" fill="#fff"/>
<circle cx="915.5" cy="396.00" r="3" fill="#fff"/>
<circle cx="927.5" cy="396.00" r="3" fill="#fff"/>
</g>
<rect x="367.60" y="217.05" width="126.70" height="3.70" fill="#06c606"/>
<rect x="490.30" y="217.05" width="4.00" height="193.85" fill="#06c606"/>
<rect x="490.30" y="406.90" width="78.30" height="4.00" fill="#06c606"/>
<rect x="523.80" y="201.05" width="48.80" height="3.90" fill="#06c606"/>
<rect x="523.80" y="218.15" width="48.80" height="3.90" fill="#06c606"/>
<rect x="523.80" y="239.05" width="48.80" height="3.90" fill="#06c606"/>
<rect x="523.80" y="257.45" width="48.80" height="3.90" fill="#06c606"/>
<rect x="523.80" y="274.55" width="48.80" height="3.90" fill="#06c606"/>
<rect x="523.80" y="294.45" width="48.80" height="3.90" fill="#06c606"/>
<rect x="523.80" y="314.35" width="48.80" height="3.90" fill="#06c606"/>
<rect x="523.80" y="333.65" width="48.80" height="3.90" fill="#06c606"/>
<rect x="699.00" y="201.55" width="67.60" height="3.90" fill="#06c606"/>
<rect x="699.00" y="221.45" width="67.60" height="3.90" fill="#06c606"/>
<rect x="699.00" y="241.35" width="67.60" height="3.90" fill="#06c606"/>
<rect x="699.00" y="258.15" width="67.60" height="3.90" fill="#06c606"/>
<rect x="699.00" y="276.55" width="67.60" height="3.90" fill="#06c606"/>
<rect x="699.00" y="297.75" width="67.60" height="3.90" fill="#06c606"/>
<rect x="699.00" y="314.75" width="67.60" height="3.90" fill="#06c606"/>
<path d="M699,333.2 H852.8 V273.3 H915.5" fill="none" stroke="#06c606" stroke-width="4" stroke-linejoin="miter" />
<rect x="367.60" y="260.80" width="93.40" height="3.90" fill="#0a64d8"/>
<rect x="457.00" y="260.80" width="4.00" height="167.25" fill="#0a64d8"/>
<rect x="457.00" y="424.55" width="111.60" height="3.50" fill="#0a64d8"/>
<rect x="436.90" y="408.20" width="22.10" height="3.80" fill="#0a6cff"/>
<rect x="436.90" y="380.00" width="55.40" height="3.80" fill="#06c606"/>
<path d="M147.8,498.5 L752.8,497.75" fill="none" stroke="#ff0000" stroke-width="3.8"/>
<path d="M219.8,412.1 H189.8 V498" fill="none" stroke="#ff0000" stroke-width="4" stroke-linejoin="miter" />
<rect x="514.80" y="351.80" width="53.80" height="4.00" fill="#ff0000"/>
<rect x="514.75" y="351.80" width="3.70" height="146.50" fill="#ff0000"/>
<rect x="701.30" y="388.10" width="51.60" height="3.40" fill="#ff0000"/>
<rect x="749.00" y="388.10" width="3.80" height="111.50" fill="#ff0000"/>
<path d="M749,452 H990 V213 H927.5 V258.3" fill="none" stroke="#ff0000" stroke-width="4" stroke-linejoin="miter" />
<path d="M147.8,513 H740.8" fill="none" stroke="#000000" stroke-width="4" stroke-linejoin="miter" />
<path d="M368.6,395.6 H395.9 V513" fill="none" stroke="#000000" stroke-width="4" stroke-linejoin="miter" />
<path d="M454.9,159 V198.8 H481.2 V513" fill="none" stroke="#000000" stroke-width="4" stroke-linejoin="miter" />
<path d="M568.6,372.3 H525.2 V513" fill="none" stroke="#000000" stroke-width="4" stroke-linejoin="miter" />
<path d="M701.3,408.7 H738.8 V515" fill="none" stroke="#000000" stroke-width="4" stroke-linejoin="miter" />
<path d="M701.3,425.9 H738.8" fill="none" stroke="#000000" stroke-width="4" stroke-linejoin="miter" />
<path d="M701.3,445.2 H738.8" fill="none" stroke="#000000" stroke-width="4" stroke-linejoin="miter" />
<path d="M738.8,473.85 H915.5 V396" fill="none" stroke="#000000" stroke-width="4" stroke-linejoin="miter" />
<path d="M423.3,158 V171 H405.3 V411.1 H369" fill="none" stroke="#ff6600" stroke-width="4.1" stroke-linejoin="miter" />
<path d="M434.3,158 V171.7 H444.3 V307.4 H367.6" fill="none" stroke="#a008ff" stroke-width="4" stroke-linejoin="miter" />
<text x="898.4" y="261.30" font-family="'DejaVu Sans','Liberation Sans',sans-serif" font-size="9.4" font-weight="bold" fill="#fff" text-anchor="middle" >5V</text>
<text x="944.2" y="261.30" font-family="'DejaVu Sans','Liberation Sans',sans-serif" font-size="9.4" font-weight="bold" fill="#fff" text-anchor="middle" >5V</text>
<text x="898.4" y="276.60" font-family="'DejaVu Sans','Liberation Sans',sans-serif" font-size="9.4" font-weight="bold" fill="#fff" text-anchor="middle" >1</text>
<text x="944.2" y="276.60" font-family="'DejaVu Sans','Liberation Sans',sans-serif" font-size="9.4" font-weight="bold" fill="#fff" text-anchor="middle" >2</text>
<text x="898.4" y="291.90" font-family="'DejaVu Sans','Liberation Sans',sans-serif" font-size="9.4" font-weight="bold" fill="#fff" text-anchor="middle" >3</text>
<text x="944.2" y="291.90" font-family="'DejaVu Sans','Liberation Sans',sans-serif" font-size="9.4" font-weight="bold" fill="#fff" text-anchor="middle" >4</text>
<text x="898.4" y="307.20" font-family="'DejaVu Sans','Liberation Sans',sans-serif" font-size="9.4" font-weight="bold" fill="#fff" text-anchor="middle" >5</text>
<text x="944.2" y="307.20" font-family="'DejaVu Sans','Liberation Sans',sans-serif" font-size="9.4" font-weight="bold" fill="#fff" text-anchor="middle" >6</text>
<text x="898.4" y="322.50" font-family="'DejaVu Sans','Liberation Sans',sans-serif" font-size="9.4" font-weight="bold" fill="#fff" text-anchor="middle" >7</text>
<text x="944.2" y="322.50" font-family="'DejaVu Sans','Liberation Sans',sans-serif" font-size="9.4" font-weight="bold" fill="#fff" text-anchor="middle" >8</text>
<text x="898.4" y="337.80" font-family="'DejaVu Sans','Liberation Sans',sans-serif" font-size="9.4" font-weight="bold" fill="#fff" text-anchor="middle" >9</text>
<text x="944.2" y="337.80" font-family="'DejaVu Sans','Liberation Sans',sans-serif" font-size="9.4" font-weight="bold" fill="#fff" text-anchor="middle" >10</text>
<text x="898.4" y="353.10" font-family="'DejaVu Sans','Liberation Sans',sans-serif" font-size="9.4" font-weight="bold" fill="#fff" text-anchor="middle" >11</text>
<text x="944.2" y="353.10" font-family="'DejaVu Sans','Liberation Sans',sans-serif" font-size="9.4" font-weight="bold" fill="#fff" text-anchor="middle" >12</text>
<text x="898.4" y="368.40" font-family="'DejaVu Sans','Liberation Sans',sans-serif" font-size="9.4" font-weight="bold" fill="#fff" text-anchor="middle" >13</text>
<text x="944.2" y="368.40" font-family="'DejaVu Sans','Liberation Sans',sans-serif" font-size="9.4" font-weight="bold" fill="#fff" text-anchor="middle" >14</text>
<text x="898.4" y="383.70" font-family="'DejaVu Sans','Liberation Sans',sans-serif" font-size="9.4" font-weight="bold" fill="#fff" text-anchor="middle" >15</text>
<text x="944.2" y="383.70" font-family="'DejaVu Sans','Liberation Sans',sans-serif" font-size="9.4" font-weight="bold" fill="#fff" text-anchor="middle" >16</text>
<text x="898.4" y="399.00" font-family="'DejaVu Sans','Liberation Sans',sans-serif" font-size="9.4" font-weight="bold" fill="#fff" text-anchor="middle" >GND</text>
<text x="944.2" y="399.00" font-family="'DejaVu Sans','Liberation Sans',sans-serif" font-size="9.4" font-weight="bold" fill="#fff" text-anchor="middle" >GND</text>
<g filter="url(#b2)">
<line x1="407.4" y1="190.9" x2="442.3" y2="190.9" stroke="#9aa3ad" stroke-width="1"/>
<path d="M410.40000000000003,190.4 L413.6,188.9 V192.9 L410.40000000000003,191.4 Z M438.8,190.4 L435.6,188.9 V192.9 L438.8,191.4 Z" fill="#d2b690"/>
<rect x="415.6" y="187.1" width="18" height="7.6" fill="#dcc29c"/>
<ellipse cx="417.0" cy="190.9" rx="4.5" ry="5" fill="#d9bd95"/>
<ellipse cx="432.20000000000005" cy="190.9" rx="4.5" ry="5" fill="#d9bd95"/>
<rect x="417.10" y="186.10" width="2" height="9.6" rx="0.6" fill="#7a3d12"/>
<rect x="421.00" y="187.10" width="2" height="7.6" rx="0.6" fill="#111"/>
<rect x="424.90" y="187.10" width="2" height="7.6" rx="0.6" fill="#f8960c"/>
<rect x="430.90" y="186.10" width="2" height="9.6" rx="0.6" fill="#dccc1e"/>
</g>
<g filter="url(#b2)">
<line x1="407" y1="381.9" x2="438" y2="381.9" stroke="#9aa3ad" stroke-width="1"/>
<path d="M410.3,381.4 L413.5,379.9 V383.9 L410.3,382.4 Z M438.7,381.4 L435.5,379.9 V383.9 L438.7,382.4 Z" fill="#d2b690"/>
<rect x="415.5" y="378.09999999999997" width="18" height="7.6" fill="#dcc29c"/>
<ellipse cx="416.9" cy="381.9" rx="4.5" ry="5" fill="#d9bd95"/>
<ellipse cx="432.1" cy="381.9" rx="4.5" ry="5" fill="#d9bd95"/>
<rect x="416.30" y="377.10" width="2" height="9.6" rx="0.6" fill="#f4e41a"/>
<rect x="421.00" y="378.10" width="2" height="7.6" rx="0.6" fill="#a31ccc"/>
<rect x="425.10" y="378.10" width="2" height="7.6" rx="0.6" fill="#f0201c"/>
<rect x="431.50" y="377.10" width="2" height="9.6" rx="0.6" fill="#e6cf3a"/>
</g>
<g filter="url(#b2)">
<line x1="407" y1="410.3" x2="438" y2="410.3" stroke="#9aa3ad" stroke-width="1"/>
<path d="M410.3,409.8 L413.5,408.3 V412.3 L410.3,410.8 Z M438.7,409.8 L435.5,408.3 V412.3 L438.7,410.8 Z" fill="#d2b690"/>
<rect x="415.5" y="406.5" width="18" height="7.6" fill="#dcc29c"/>
<ellipse cx="416.9" cy="410.3" rx="4.5" ry="5" fill="#d9bd95"/>
<ellipse cx="432.1" cy="410.3" rx="4.5" ry="5" fill="#d9bd95"/>
<rect x="416.30" y="405.50" width="2" height="9.6" rx="0.6" fill="#f4e41a"/>
<rect x="421.00" y="406.50" width="2" height="7.6" rx="0.6" fill="#a31ccc"/>
<rect x="425.10" y="406.50" width="2" height="7.6" rx="0.6" fill="#f0201c"/>
<rect x="431.50" y="405.50" width="2" height="9.6" rx="0.6" fill="#e6cf3a"/>
</g>
<text x="410.8" y="207.2" font-family="'DejaVu Sans','Liberation Sans',sans-serif" font-size="14.1" font-weight="normal" fill="#000" text-anchor="start" >10K</text>
<text x="408.7" y="374.6" font-family="'DejaVu Sans','Liberation Sans',sans-serif" font-size="14.2" font-weight="normal" fill="#000" text-anchor="start" >4.7K</text>
<text x="411.5" y="429.5" font-family="'DejaVu Sans','Liberation Sans',sans-serif" font-size="14.2" font-weight="normal" fill="#000" text-anchor="start" >4.7K</text>
<text x="375.8" y="214.1" font-family="'DejaVu Sans','Liberation Sans',sans-serif" font-size="11.3" font-weight="normal" fill="#0fc60f" text-anchor="start" >SCL</text>
<text x="375.8" y="259.2" font-family="'DejaVu Sans','Liberation Sans',sans-serif" font-size="11.3" font-weight="normal" fill="#0a64e8" text-anchor="start" >SDA</text>
<text x="376.8" y="301.8" font-family="'DejaVu Sans','Liberation Sans',sans-serif" font-size="11.3" font-weight="normal" fill="#9b0fff" text-anchor="start" >D5</text>
<text x="352.8" y="427.9" font-family="'DejaVu Sans','Liberation Sans',sans-serif" font-size="13.7" font-weight="bold" fill="#ff6600" text-anchor="start" >3.3V</text>
<text x="163.1" y="491.4" font-family="'DejaVu Sans','Liberation Sans',sans-serif" font-size="14.2" font-weight="normal" fill="#ff0000" text-anchor="start" >5V</text>
<text x="159.5" y="529.6" font-family="'DejaVu Sans','Liberation Sans',sans-serif" font-size="14.0" font-weight="normal" fill="#000" text-anchor="start" >GND</text>
<text x="675" y="162.8" font-family="'DejaVu Sans','Liberation Sans',sans-serif" font-size="14.2" font-weight="normal" fill="#000" text-anchor="start" textLength="255.2" lengthAdjust="spacing">1 à 16 =&gt; Pinos do Módulo de Relês</text>
<text x="506.3" y="205.7" font-family="'DejaVu Sans','Liberation Sans',sans-serif" font-size="9.4" font-weight="bold" fill="#000" text-anchor="middle" >9</text>
<rect x="515.3" y="202.4" width="1.4" height="1.3" fill="#777"/>
<rect x="517.9" y="202.4" width="1.4" height="1.3" fill="#777"/>
<rect x="520.5" y="202.4" width="1.4" height="1.3" fill="#777"/>
<text x="506.3" y="223.8" font-family="'DejaVu Sans','Liberation Sans',sans-serif" font-size="9.4" font-weight="bold" fill="#000" text-anchor="middle" >10</text>
<rect x="515.3" y="219.5" width="1.4" height="1.3" fill="#777"/>
<rect x="517.9" y="219.5" width="1.4" height="1.3" fill="#777"/>
<rect x="520.5" y="219.5" width="1.4" height="1.3" fill="#777"/>
<text x="506.3" y="244.9" font-family="'DejaVu Sans','Liberation Sans',sans-serif" font-size="9.4" font-weight="bold" fill="#000" text-anchor="middle" >11</text>
<rect x="515.3" y="240.4" width="1.4" height="1.3" fill="#777"/>
<rect x="517.9" y="240.4" width="1.4" height="1.3" fill="#777"/>
<rect x="520.5" y="240.4" width="1.4" height="1.3" fill="#777"/>
<text x="506.3" y="262.5" font-family="'DejaVu Sans','Liberation Sans',sans-serif" font-size="9.4" font-weight="bold" fill="#000" text-anchor="middle" >12</text>
<rect x="515.3" y="258.8" width="1.4" height="1.3" fill="#777"/>
<rect x="517.9" y="258.8" width="1.4" height="1.3" fill="#777"/>
<rect x="520.5" y="258.8" width="1.4" height="1.3" fill="#777"/>
<text x="506.3" y="280.5" font-family="'DejaVu Sans','Liberation Sans',sans-serif" font-size="9.4" font-weight="bold" fill="#000" text-anchor="middle" >13</text>
<rect x="515.3" y="275.9" width="1.4" height="1.3" fill="#777"/>
<rect x="517.9" y="275.9" width="1.4" height="1.3" fill="#777"/>
<rect x="520.5" y="275.9" width="1.4" height="1.3" fill="#777"/>
<text x="506.3" y="301.4" font-family="'DejaVu Sans','Liberation Sans',sans-serif" font-size="9.4" font-weight="bold" fill="#000" text-anchor="middle" >14</text>
<rect x="515.3" y="295.8" width="1.4" height="1.3" fill="#777"/>
<rect x="517.9" y="295.8" width="1.4" height="1.3" fill="#777"/>
<rect x="520.5" y="295.8" width="1.4" height="1.3" fill="#777"/>
<text x="506.3" y="318.6" font-family="'DejaVu Sans','Liberation Sans',sans-serif" font-size="9.4" font-weight="bold" fill="#000" text-anchor="middle" >15</text>
<rect x="515.3" y="315.7" width="1.4" height="1.3" fill="#777"/>
<rect x="517.9" y="315.7" width="1.4" height="1.3" fill="#777"/>
<rect x="520.5" y="315.7" width="1.4" height="1.3" fill="#777"/>
<text x="506.3" y="336.8" font-family="'DejaVu Sans','Liberation Sans',sans-serif" font-size="9.4" font-weight="bold" fill="#000" text-anchor="middle" >16</text>
<rect x="515.3" y="335.0" width="1.4" height="1.3" fill="#777"/>
<rect x="517.9" y="335.0" width="1.4" height="1.3" fill="#777"/>
<rect x="520.5" y="335.0" width="1.4" height="1.3" fill="#777"/>
<text x="780.4" y="206.8" font-family="'DejaVu Sans','Liberation Sans',sans-serif" font-size="9.4" font-weight="bold" fill="#000" text-anchor="start" >8</text>
<rect x="769.7" y="202.8" width="1.5" height="1.4" fill="#333"/>
<rect x="772.8" y="202.8" width="1.5" height="1.4" fill="#333"/>
<rect x="775.9" y="202.8" width="1.5" height="1.4" fill="#333"/>
<text x="780.4" y="225.5" font-family="'DejaVu Sans','Liberation Sans',sans-serif" font-size="9.4" font-weight="bold" fill="#000" text-anchor="start" >7</text>
<rect x="769.7" y="222.7" width="1.5" height="1.4" fill="#333"/>
<rect x="772.8" y="222.7" width="1.5" height="1.4" fill="#333"/>
<rect x="775.9" y="222.7" width="1.5" height="1.4" fill="#333"/>
<text x="780.4" y="246.4" font-family="'DejaVu Sans','Liberation Sans',sans-serif" font-size="9.4" font-weight="bold" fill="#000" text-anchor="start" >6</text>
<rect x="769.7" y="242.6" width="1.5" height="1.4" fill="#333"/>
<rect x="772.8" y="242.6" width="1.5" height="1.4" fill="#333"/>
<rect x="775.9" y="242.6" width="1.5" height="1.4" fill="#333"/>
<text x="780.4" y="263.4" font-family="'DejaVu Sans','Liberation Sans',sans-serif" font-size="9.4" font-weight="bold" fill="#000" text-anchor="start" >5</text>
<rect x="769.7" y="259.4" width="1.5" height="1.4" fill="#333"/>
<rect x="772.8" y="259.4" width="1.5" height="1.4" fill="#333"/>
<rect x="775.9" y="259.4" width="1.5" height="1.4" fill="#333"/>
<text x="780.4" y="281.8" font-family="'DejaVu Sans','Liberation Sans',sans-serif" font-size="9.4" font-weight="bold" fill="#000" text-anchor="start" >4</text>
<rect x="769.7" y="277.8" width="1.5" height="1.4" fill="#333"/>
<rect x="772.8" y="277.8" width="1.5" height="1.4" fill="#333"/>
<rect x="775.9" y="277.8" width="1.5" height="1.4" fill="#333"/>
<text x="780.4" y="303" font-family="'DejaVu Sans','Liberation Sans',sans-serif" font-size="9.4" font-weight="bold" fill="#000" text-anchor="start" >3</text>
<rect x="769.7" y="299.0" width="1.5" height="1.4" fill="#333"/>
<rect x="772.8" y="299.0" width="1.5" height="1.4" fill="#333"/>
<rect x="775.9" y="299.0" width="1.5" height="1.4" fill="#333"/>
<text x="780.4" y="320" font-family="'DejaVu Sans','Liberation Sans',sans-serif" font-size="9.4" font-weight="bold" fill="#000" text-anchor="start" >2</text>
<rect x="769.7" y="316.0" width="1.5" height="1.4" fill="#333"/>
<rect x="772.8" y="316.0" width="1.5" height="1.4" fill="#333"/>
<rect x="775.9" y="316.0" width="1.5" height="1.4" fill="#333"/>
<text x="780.4" y="334.7" font-family="'DejaVu Sans','Liberation Sans',sans-serif" font-size="9.4" font-weight="bold" fill="#000" text-anchor="start" >1</text>
</svg>
</body>
</html>
